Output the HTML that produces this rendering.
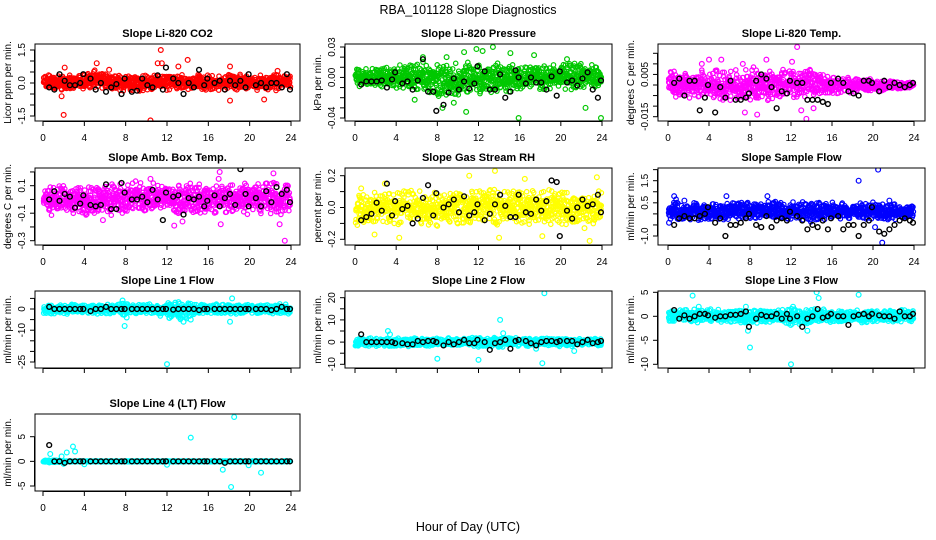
<!DOCTYPE html>
<html><head><meta charset="utf-8"><style>
html,body{margin:0;padding:0;background:#fff}
svg{display:block}
text{font-family:"Liberation Sans",sans-serif;fill:#000}
</style></head><body>
<svg id="chart" width="936" height="540" viewBox="0 0 936 540" xmlns="http://www.w3.org/2000/svg">
<text x="468" y="14" font-size="12.5" text-anchor="middle">RBA_101128  Slope Diagnostics</text>
<text x="468" y="531" font-size="12.5" text-anchor="middle">Hour of Day (UTC)</text>
</svg>
<script>
// ---- data ----
const panelTitles=["Slope Li-820 CO2","Slope Li-820 Pressure","Slope Li-820 Temp.","Slope Amb. Box Temp.","Slope Gas Stream RH","Slope Sample Flow","Slope Line 1 Flow","Slope Line 2 Flow","Slope Line 3 Flow","Slope Line 4 (LT) Flow"];
const yTitles=["Licor ppm per min.","kPa per min.","degrees C per min.","degrees C per min.","percent per min.","ml/min per min.","ml/min per min.","ml/min per min.","ml/min per min.","ml/min per min."];
const seriesColors=["#ff0000","#00c800","#ff00ff","#ff00ff","#ffff00","#0000ff","#00ffff","#00ffff","#00ffff","#00ffff"];
const xTicks=[0,4,8,12,16,20,24];
const bandHours=[0,1,2,3,4,5,6,7,8,9,10,11,12,13,14,15,16,17,18,19,20,21,22,23,24];
const yTicks=[
[-1.5,-1,-0.5,0,0.5,1,1.5],
[-0.04,-0.03,-0.02,-0.01,0,0.01,0.02,0.03],
[-0.015,-0.01,-0.005,0,0.005,0.01,0.015],
[-0.3,-0.2,-0.1,0,0.1,0.2],
[-0.2,-0.1,0,0.1,0.2],
[-1,-0.5,0,0.5,1,1.5,2],
[-25,-20,-15,-10,-5,0,5],
[-10,-5,0,5,10,15,20],
[-10,-5,0,5],
[-5,0,5]];
const yTickLabels=[
[[-1.5,"-1.5"],[0,"0.0"],[1.5,"1.5"]],
[[-0.04,"-0.04"],[0,"0.00"],[0.03,"0.03"]],
[[-0.015,"-0.015"],[0.005,"0.005"]],
[[-0.3,"-0.3"],[-0.1,"-0.1"],[0.1,"0.1"]],
[[-0.2,"-0.2"],[0,"0.0"],[0.2,"0.2"]],
[[-1,"-1.0"],[0.5,"0.5"],[1.5,"1.5"]],
[[-25,"-25"],[-10,"-10"],[0,"0"]],
[[-10,"-10"],[0,"0"],[10,"10"],[20,"20"]],
[[-10,"-10"],[-5,"-5"],[0,"0"],[5,"5"]],
[[-5,"-5"],[0,"0"],[5,"5"]]];
const bandLow=[
[-0.35,-0.35,-0.4,-0.35,-0.35,-0.35,-0.35,-0.35,-0.4,-0.4,-0.35,-0.35,-0.35,-0.35,-0.35,-0.35,-0.35,-0.35,-0.35,-0.35,-0.35,-0.4,-0.35,-0.35,-0.25],
[-0.012,-0.012,-0.012,-0.01,-0.012,-0.014,-0.014,-0.016,-0.022,-0.02,-0.018,-0.02,-0.018,-0.016,-0.016,-0.016,-0.014,-0.014,-0.014,-0.014,-0.012,-0.014,-0.012,-0.012,-0.01],
[-0.007,-0.007,-0.007,-0.007,-0.008,-0.008,-0.008,-0.008,-0.009,-0.009,-0.008,-0.008,-0.008,-0.008,-0.007,-0.007,-0.005,-0.004,-0.004,-0.003,-0.003,-0.003,-0.002,-0.002,-0.001],
[-0.12,-0.12,-0.14,-0.14,-0.12,-0.12,-0.12,-0.12,-0.12,-0.12,-0.12,-0.12,-0.12,-0.12,-0.12,-0.12,-0.12,-0.12,-0.12,-0.12,-0.12,-0.12,-0.12,-0.12,-0.12],
[-0.12,-0.12,-0.12,-0.12,-0.12,-0.1,-0.12,-0.12,-0.12,-0.12,-0.12,-0.12,-0.12,-0.12,-0.12,-0.12,-0.12,-0.12,-0.12,-0.12,-0.12,-0.12,-0.12,-0.12,-0.12],
[-0.5,-0.4,-0.3,-0.3,-0.3,-0.3,-0.3,-0.3,-0.3,-0.3,-0.3,-0.3,-0.4,-0.4,-0.4,-0.4,-0.3,-0.3,-0.3,-0.3,-0.3,-0.3,-0.3,-0.3,-0.3],
[-2.5,-2.5,-2.5,-2.5,-2.5,-2.5,-2.5,-2.5,-3,-2.5,-2.5,-2.5,-5,-6,-5,-2.5,-2.5,-2.5,-2.5,-2.5,-2.5,-2.5,-2.5,-2.5,-2.5],
[-2,-2,-2,-2,-2,-2,-2,-2,-2,-2,-2,-2,-2.5,-2.5,-2.5,-2,-2,-2,-2,-2,-2,-2,-2,-2,-2],
[-1.5,-1.5,-1.5,-1.5,-1.5,-1.5,-1.5,-1.5,-2,-1.5,-1.5,-1.5,-2,-2,-2,-1.5,-1.5,-1.5,-1.5,-1.5,-1.5,-1.5,-1.5,-1.5,-1.5],
[-0.3,-0.3,-0.1,-0.1,-0.1,-0.1,-0.1,-0.1,-0.1,-0.1,-0.1,-0.1,-0.1,-0.1,-0.1,-0.1,-0.1,-0.1,-0.1,-0.1,-0.1,-0.1,-0.1,-0.1,-0.1]];
const bandHigh=[
[0.4,0.4,0.4,0.4,0.4,0.65,0.5,0.4,0.4,0.4,0.4,0.4,0.4,0.4,0.4,0.4,0.4,0.4,0.4,0.4,0.4,0.4,0.4,0.4,0.35],
[0.012,0.012,0.012,0.012,0.014,0.014,0.014,0.016,0.016,0.018,0.016,0.017,0.016,0.016,0.016,0.016,0.014,0.014,0.016,0.014,0.014,0.016,0.016,0.014,0.012],
[0.007,0.007,0.007,0.007,0.008,0.008,0.008,0.008,0.009,0.009,0.008,0.008,0.008,0.008,0.008,0.007,0.005,0.004,0.004,0.003,0.003,0.003,0.002,0.002,0.001],
[0.12,0.12,0.12,0.12,0.12,0.12,0.12,0.12,0.12,0.14,0.14,0.12,0.12,0.12,0.12,0.12,0.12,0.12,0.12,0.12,0.14,0.14,0.14,0.14,0.12],
[0.12,0.12,0.12,0.12,0.12,0.12,0.12,0.12,0.12,0.12,0.12,0.12,0.12,0.12,0.12,0.12,0.12,0.12,0.12,0.12,0.12,0.12,0.12,0.12,0.12],
[0.7,0.7,0.6,0.6,0.5,0.5,0.6,0.6,0.6,0.6,0.6,0.6,0.6,0.6,0.6,0.6,0.55,0.55,0.55,0.55,0.55,0.55,0.55,0.55,0.5],
[2.5,2.5,2.5,2.5,2.5,2.5,2.5,2.5,3,2.5,2.5,2.5,3.5,3.5,3.5,2.5,2.5,2.5,2.5,2.5,2.5,2.5,2.5,2.5,2.5],
[2,2,2,2,2,2,2,2,2,2,2,2,2.5,2.5,2.5,2,2,2,2,2,2,2,2,2,2],
[1.5,1.5,1.5,1.5,1.5,1.5,1.5,1.5,2,1.5,1.5,1.5,2,2,2,1.5,1.5,1.5,1.5,1.5,1.5,1.5,1.5,1.5,1.5],
[0.3,0.3,0.1,0.1,0.1,0.1,0.1,0.1,0.1,0.1,0.1,0.1,0.1,0.1,0.1,0.1,0.1,0.1,0.1,0.1,0.1,0.1,0.1,0.1,0.1]];
const outliers=[
[[2,-1.45],[2.1,0.7],[9.3,-1.95],[10.4,-1.7],[11.4,1.5],[11.1,0.9],[11.5,0.9],[13.1,0.75],[14,1.05],[18.1,0.75],[18.1,-0.8],[21.4,-0.75],[5.2,0.9],[6.4,0.6],[1.8,-0.6],[22.7,0.55]],
[[10.6,0.025],[11.8,0.028],[12.4,0.026],[13.4,0.03],[15.1,0.024],[17.4,0.022],[20.6,0.018],[15.9,-0.04],[23.9,-0.04],[8.5,-0.03],[10.8,-0.034],[9.6,-0.025],[22.4,-0.03],[6.6,0.02],[8.9,0.02],[5.8,-0.022]],
[[12.6,0.018],[13.5,-0.016],[4,0.012],[5.2,0.012],[9.6,0.012],[7.5,-0.013],[8.7,-0.014],[12.1,0.011],[13,-0.012],[14.2,-0.011],[3.3,0.01],[7.3,0.01]],
[[17.1,0.2],[22.3,0.19],[23.4,-0.3],[12.7,-0.19],[17.2,-0.18],[13.5,-0.16],[22.9,-0.18],[17,0.15],[10.4,0.15],[5.8,-0.15]],
[[13.6,0.23],[11.1,0.2],[22.8,-0.21],[4.3,-0.19],[14,-0.19],[1.9,-0.17],[18.2,-0.18],[23.5,0.19],[16.5,0.18],[22.3,-0.13],[0.6,0.12],[2.9,0.15]],
[[20.5,2.0],[18.6,1.5],[5.7,0.8],[9.7,0.8],[21.6,0.6],[20.9,-1.3],[0.6,0.8],[1.6,0.6],[20.2,-0.6],[0.1,-0.4]],
[[12,-26],[7.9,-8],[18.3,5],[12.2,2],[12.8,3],[18.1,-6],[8.1,-4],[7.7,4],[13.6,-6],[14.3,-5]],
[[18.4,22],[14.1,10],[18.2,-9.5],[8,-7.5],[12,-8],[3.4,3.5],[14.4,4],[21.3,-4],[3.2,5],[17.6,-3]],
[[12,-10],[8,-6.5],[14.5,5],[18.6,4.5],[2.4,4.3],[7.8,-3],[13.6,-3],[14.7,3.8],[7.6,2],[3,2],[12.2,2]],
[[18.5,9],[14.3,4.8],[18.2,-5.2],[17.4,-1.7],[21.1,-2.3],[2.9,3],[3.1,2],[0.7,1.5],[2.3,1.8],[1.8,1],[19.9,-0.8],[12,-0.7],[4,-0.6],[2,-0.5]]];
const blackHours=[0.6,1.1,1.6,2.1,2.6,3.1,3.6,3.9,4.6,5.1,5.6,6.1,6.6,7.1,7.6,7.9,8.6,9.1,9.6,10.1,10.6,11.1,11.6,11.9,12.6,13.1,13.6,14.1,14.6,15.1,15.6,15.9,16.6,17.1,17.6,18.1,18.6,19.1,19.6,19.9,20.6,21.1,21.6,22.1,22.6,23.1,23.6,23.9];
const blackValues=[
[-0.2,-0.3,0.4,0.1,-0.1,-0.1,0,0.4,0.2,-0.3,0,-0.4,-0.2,-0.05,-0.5,0.2,-0.4,-0.35,0.2,-0.1,-0.2,0.35,-0.3,0.7,0.2,0,-0.5,0,-0.2,0.6,-0.1,0.2,0,0.1,-0.3,0.1,-0.1,0.1,-0.2,0.4,-0.1,0,-0.2,0,0,-0.2,0.4,-0.3],
[-0.007,-0.004,-0.004,-0.004,-0.003,-0.01,-0.002,0.005,-0.006,-0.004,-0.012,-0.003,0.018,-0.014,-0.014,-0.033,-0.027,-0.015,-0.001,-0.012,-0.004,-0.011,-0.006,0.011,0.006,-0.012,-0.012,0.003,-0.02,-0.014,0.007,0,-0.006,0,-0.005,-0.005,-0.012,0.001,-0.018,0.006,-0.005,-0.003,-0.008,-0.001,0.005,-0.012,-0.02,-0.003],
[0.001,0.003,-0.005,0.002,0.002,-0.012,-0.006,0,-0.013,-0.001,-0.006,0.002,-0.007,-0.007,-0.006,-0.004,0.002,0.005,0.003,-0.001,-0.011,-0.003,-0.004,0.002,0.001,0.001,-0.007,-0.007,-0.007,-0.008,-0.009,0.001,0.003,0.001,-0.003,-0.004,-0.005,0.002,0.002,0.001,-0.003,0.002,-0.001,0.001,0,-0.001,0,0.001],
[0,0.06,-0.01,0.04,0.02,-0.06,-0.03,0.03,-0.04,-0.05,-0.04,0.11,-0.07,-0.07,0.12,0.05,0,0,0.02,-0.02,0.07,0,-0.15,0.05,0.02,0.03,-0.11,0.01,0,0.02,-0.05,-0.01,0.03,-0.05,0.01,0.04,-0.04,0.22,0.04,-0.05,0.01,-0.05,0.06,-0.02,0.09,0.04,0.07,-0.02],
[-0.08,-0.06,-0.04,0.03,-0.02,0.15,-0.05,0.04,-0.01,0.01,-0.1,-0.07,0.06,0.14,-0.05,0.09,0,0.02,0.05,-0.03,0.07,-0.05,-0.03,0.02,-0.08,-0.04,0.02,0.08,0.01,-0.06,-0.06,0.08,-0.03,-0.04,0.05,-0.02,0.04,0.17,0.16,-0.18,-0.02,-0.07,0,0.05,0.01,0.02,0.08,-0.03],
[-0.5,-0.2,-0.1,-0.2,-0.2,-0.1,0,0.3,-0.4,-0.2,-1,-0.5,-0.5,-0.4,-0.2,0,-0.5,-0.6,-0.1,-0.6,-0.3,-0.2,-0.3,0.1,-0.1,-0.3,-0.7,-0.5,-0.6,-0.3,-0.7,-0.2,-0.1,-0.7,-0.5,-0.5,-1,-0.5,-0.3,0.3,-0.8,-0.9,-0.7,-0.5,-0.3,-0.2,-0.3,-0.4],
[1,0,0,0,0,0,0,0,-1,0,0,1,0,0,0,0,0,0,0,0,0,0,0,0,-0.3,0,0,0,0,-0.5,0,0,0,0,0,0,0,0,0,0,0,0,0,-0.5,0,1,0,0],
[3.5,0,0,0,0,0,0,-0.5,-0.5,-1,-1,0.5,0,0.5,0.5,0,-1.5,0,-1,0,1,-0.5,-0.5,1,0,-3.5,-0.5,0,1,-3,0.5,1,0.5,-0.5,-1.5,0,0.5,0.5,0,0.5,0.5,0.5,-1,0,1,-0.5,0,0.5],
[1.3,-0.5,0.2,-0.5,0,0.5,0.5,0.2,-0.3,0,0,0.3,0.3,0.5,1,-2.2,-0.5,0.3,0,0,0.5,-0.5,0.5,-0.5,0,-2.2,-0.5,0,1.5,-0.3,0,0.5,0,0,-1.8,0,0.3,0.5,0,0.5,0.2,0,0,-0.5,1,0,0,0.5],
[3.3,0,0,-0.3,0,0,0,0,0,0,0,0,0,0,0,0,0,0,0,0,0,0,0,0,0,0,0,0,0,0,0,0,0,0,-0.3,0,0,0,0,0,0,0,0,0,0,0,0,0]];
// ---- layout (not data) ----
const colLeft=[35,345,658], colRight=[300,612,925], colX0=[43,355,668], colX24=[291,602,914];
const rowTop=[44,168,291,414], boxH=77;
const yRefs=[[1.5,50,-1.5,116],[0.03,47,-0.04,118],[0.015,53.3,-0.015,116.7],[0.1,185.7,-0.3,240.7],[0.2,175.7,-0.2,239.3],[1.5,180.7,-1,236],[0,309,-25,362],[20,297.7,-10,364.3],[5,292.3,-10,364.3],[5,436.7,-5,486]];
const svg=document.getElementById('chart');
const NS='http://www.w3.org/2000/svg';
function mk(tag,attrs,parent){const e=document.createElementNS(NS,tag);for(const k in attrs)e.setAttribute(k,attrs[k]);(parent||svg).appendChild(e);return e;}
function interp(arr,h){const i=Math.min(23,Math.max(0,Math.floor(h)));const f=h-i;return arr[i]*(1-f)+arr[i+1]*f;}
// deterministic hash texture (visual dithering of the cloud only)
function hash(n){const s=Math.sin(n*12.9898+78.233)*43758.5453;return s-Math.floor(s);}
for(let p=0;p<10;p++){
  const c=p%3, r=Math.floor(p/3);
  const L=colLeft[c],R=colRight[c],T=rowTop[r],B=T+boxH;
  const xs=h=>colX0[c]+(colX24[c]-colX0[c])*h/24;
  const [v0,p0,v1,p1]=yRefs[p];
  const ys=v=>p0+(v-v0)*(p1-p0)/(v1-v0);
  const g=mk('g',{});
  
  
  const cp=mk('clipPath',{id:'cp'+p},g);mk('rect',{x:L,y:T,width:R-L,height:B-T},cp);
  const t=mk('text',{x:(L+R)/2,y:T-7,'font-size':11,'font-weight':'bold','text-anchor':'middle'},g);t.textContent=panelTitles[p];
  
  
  const yt=mk('text',{x:L-24,y:(T+B)/2,'font-size':10,'text-anchor':'middle',transform:`rotate(-90 ${L-24} ${(T+B)/2})`},g);yt.textContent=yTitles[p];
  
  
  const pts=mk('g',{'clip-path':`url(#cp${p})`,fill:'none','stroke-width':1.2},g);
  
  
  const col=seriesColors[p];
  let k=p*1000;
  for(let h=0.05;h<=23.95;h+=0.025){
    const hh=h+(hash(k*3+1)-0.5)*0.05;
    const lo=interp(bandLow[p],hh),hi=interp(bandHigh[p],hh);
    const frac=(hash(k*3+2)+hash(k*3+3))/2;
    const v=lo+(hi-lo)*frac;
    mk('circle',{cx:xs(hh).toFixed(1),cy:ys(v).toFixed(1),r:2.2,stroke:col},pts);
    k++;
  }
  for(const [h,v] of outliers[p]) mk('circle',{cx:xs(h),cy:ys(v),r:2.4,stroke:col},pts);
  for(let i=0;i<blackHours.length;i++) mk('circle',{cx:xs(blackHours[i]),cy:ys(blackValues[p][i]),r:2.4,stroke:'#000','stroke-width':1.4},pts);
  const box=mk('rect',{x:L,y:T,width:R-L,height:B-T,fill:'none',stroke:'#000','stroke-width':1},g);
  
  
  mk('line',{x1:xs(0),x2:xs(24),y1:B+0.5,y2:B+0.5,stroke:'#000'},g);
  for(const tv of xTicks){
    mk('line',{x1:xs(tv),x2:xs(tv),y1:B,y2:B+5,stroke:'#000'},g);
    if(r!==2){
      const tx=mk('text',{x:xs(tv),y:B+20,'font-size':10,'text-anchor':'middle'},g);tx.textContent=tv;
      
      
    }
  }
  const yt0=yTicks[p];
  mk('line',{x1:L-0.5,x2:L-0.5,y1:ys(yt0[0]),y2:ys(yt0[yt0.length-1]),stroke:'#000'},g);
  for(const tv of yt0) mk('line',{x1:L-5,x2:L,y1:ys(tv),y2:ys(tv),stroke:'#000'},g);
  for(const [tv,lab] of yTickLabels[p]){
    const yy=ys(tv);
    const tl=mk('text',{x:L-10,y:yy,'font-size':10,'text-anchor':'middle',transform:`rotate(-90 ${L-10} ${yy})`},g);tl.textContent=lab;
    
    
  }
}
</script>
</body></html>
